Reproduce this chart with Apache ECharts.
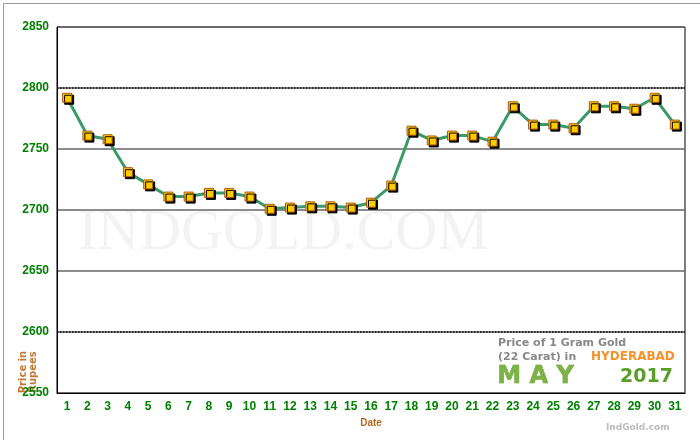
<!DOCTYPE html>
<html>
<head>
<meta charset="utf-8">
<script src="https://cdn.jsdelivr.net/npm/echarts@6/dist/echarts.min.js"></script>
<style>html,body{margin:0;background:#fff}#chart{width:700px;height:440px}</style>
</head>
<body>
<div id="chart"></div>
<script>
var dates = ["1","2","3","4","5","6","7","8","9","10","11","12","13","14","15","16","17","18","19","20","21","22","23","24","25","26","27","28","29","30","31"];
var prices = [2792,2761,2758,2731,2721,2711,2711,2714,2714,2711,2701,2702,2703,2703,2702,2706,2720,2765,2757,2761,2761,2756,2785,2770,2770,2767,2785,2785,2783,2792,2770];
var yTicks = [2550,2600,2650,2700,2750,2800,2850];

var chart = echarts.init(document.getElementById("chart"));
chart.setOption({
  animation: false,
  grid: { left: 57, right: 15, top: 27, bottom: 47, show: true, borderColor: "#000", borderWidth: 1 },
  graphic: [
    { type: "rect", left: 1, top: 1, shape: { width: 697, height: 437 }, style: { fill: "none", stroke: "#999" } },
    { type: "text", left: 78, top: 205, style: { text: "INDGOLD.COM", font: "58px 'Liberation Serif'", fill: "#f3f3f3" }, z: -1 },
    { type: "rect", left: 488, top: 333, shape: { width: 196, height: 59 }, style: { fill: "#fff", stroke: "none" }, z: 10 },
    { type: "text", left: 498, top: 338, z: 11, style: { text: "Price of 1 Gram Gold", font: "bold 11px 'DejaVu Sans'", fill: "#888" } },
    { type: "text", left: 498, top: 352, z: 11, style: { text: "(22 Carat) in", font: "bold 11px 'DejaVu Sans'", fill: "#888" } },
    { type: "text", left: 591, top: 351, z: 11, style: { text: "HYDERABAD", font: "bold 12px 'DejaVu Sans'", fill: "#f5912a" } },
    { type: "text", left: 497, top: 365, z: 11, style: { text: "M A Y", font: "bold 24px 'DejaVu Sans'", fill: "#7cb342", stroke: "#4c8a20", lineWidth: 0.5 } },
    { type: "text", left: 620, top: 368, z: 11, style: { text: "2017", font: "bold 19px 'DejaVu Sans'", fill: "#5a9e2a" } },
    { type: "text", left: 606, top: 423, style: { text: "IndGold.com", font: "bold 9px 'DejaVu Sans'", fill: "#bbb" } },
    { type: "text", x: 28, y: 372, rotation: Math.PI / 2, style: { text: "Price in\nRupees", font: "bold 10px 'DejaVu Sans'", fill: "#c07a30", align: "center", verticalAlign: "middle" } }
  ],
  xAxis: {
    type: "category", data: dates, boundaryGap: true,
    name: "Date", nameLocation: "middle", nameGap: 22,
    nameTextStyle: { color: "#b06a20", fontWeight: "bold", fontSize: 10 },
    axisLine: { lineStyle: { color: "#000" } },
    axisTick: { alignWithLabel: true, lineStyle: { color: "#000" } },
    axisLabel: { color: "#008000", fontWeight: "bold", fontSize: 12, interval: 0 }
  },
  yAxis: {
    type: "value", min: 2550, max: 2850, interval: 50,
    axisLine: { show: true, lineStyle: { color: "#000" } },
    axisTick: { show: false },
    axisLabel: { color: "#008000", fontWeight: "bold", fontSize: 12, formatter: function (v) { return yTicks.indexOf(v) >= 0 ? v : ""; } },
    splitLine: { lineStyle: { color: "#666", width: 1.5 } }
  },
  series: [{
    type: "line", data: prices,
    lineStyle: { color: "#3a9a6a", width: 3 },
    symbol: "rect", symbolSize: 9,
    itemStyle: { color: "#ffcc00", borderColor: "#b05a10", borderWidth: 1, shadowColor: "#000", shadowOffsetX: 2, shadowOffsetY: 2 },
    markLine: {
      silent: true, symbol: "none", label: { show: false },
      lineStyle: { color: "#000", type: "dotted", width: 1.5 },
      data: [{ yAxis: 2800 }, { yAxis: 2600 }]
    }
  }]
});
</script>
</body>
</html>
